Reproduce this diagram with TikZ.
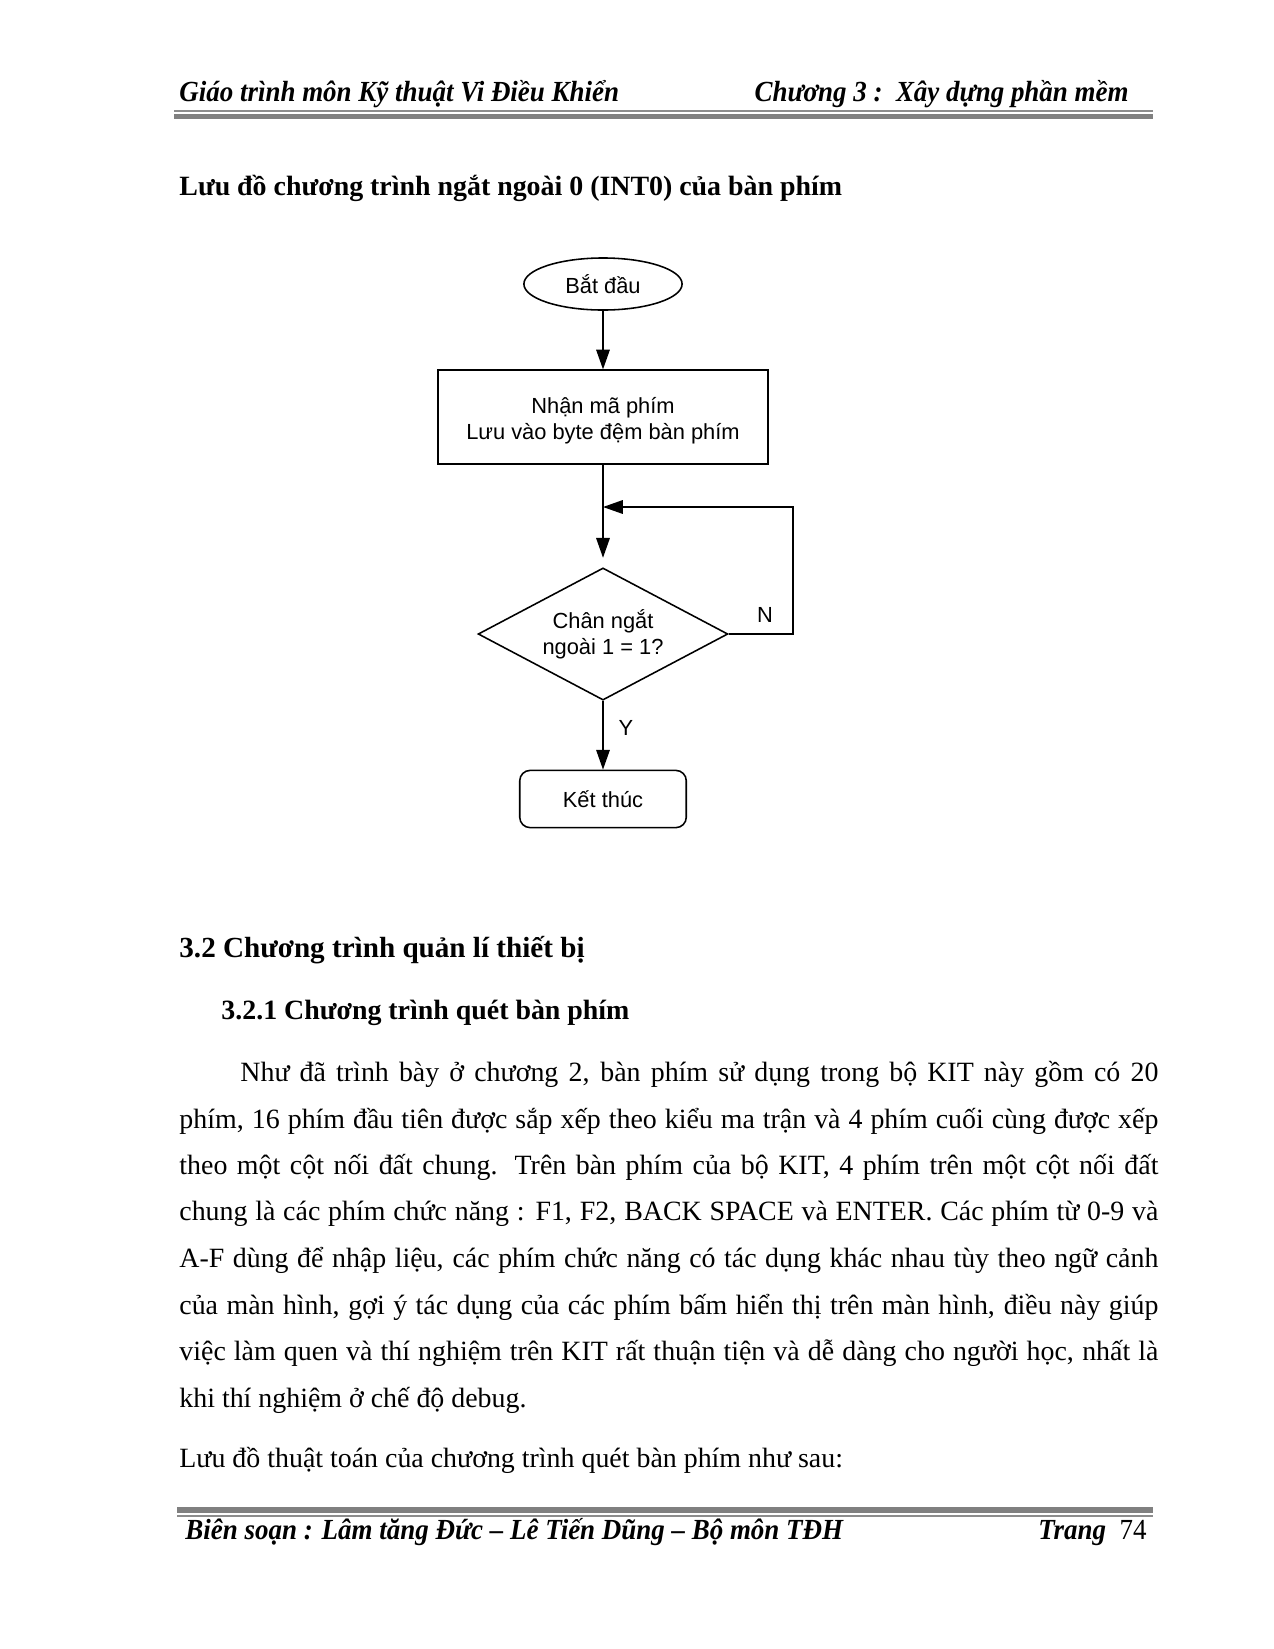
\documentclass[tikz,border=0pt]{standalone}
\usepackage{fontspec}
\usepackage{graphicx}
\setmainfont{Liberation Serif}
\newfontfamily\flowfont{Liberation Sans}
\usetikzlibrary{shapes.geometric,arrows.meta}
\newcommand\jline[2]{\makebox[#1][s]{#2}}
\newcommand\hsq[1]{\scalebox{0.925}[1]{#1}}
\begin{document}
\begin{tikzpicture}[x=0.4804pt,y=-0.4804pt,
  txt/.style={inner sep=0pt,anchor=base west,font=\fontsize{13.4}{15}\selectfont},
  hdr/.style={inner sep=0pt,font=\fontsize{14}{16}\selectfont\bfseries\itshape},
  head/.style={inner sep=0pt,anchor=base west,font=\fontsize{13.4}{15}\selectfont\bfseries},
  fl/.style={draw,line width=0.75pt,font=\flowfont\fontsize{10.5}{12.5}\selectfont,align=center},
  arr/.style={line width=0.75pt,-{Triangle[length=9.5pt,width=6.5pt]}},
  lbl/.style={inner sep=0pt,font=\flowfont\fontsize{10.5}{12.5}\selectfont},
  rulethick/.style={draw=none,fill=black!50},
  rulethin/.style={draw=black!45,line width=0.9pt}]
\useasboundingbox[fill=white] (0,0) rectangle (1274,1649);
% header
\node[hdr,anchor=base west] (hl) at (179,101) {\hsq{Giáo trình môn Kỹ thuật Vi Điều Khiển}};
\node[hdr,anchor=base east] (hr) at (1129,101) {\hsq{Chương 3 :\ \ Xây dựng phần mềm}};
\draw[rulethin] (174,111) -- (1153,111);
\fill[rulethick] (174,114) rectangle (1153,119);
% title
\node[head] (title) at (179,195) {Lưu đồ chương trình ngắt ngoài 0 (INT0) của bàn phím};
% flowchart
\node[fl,ellipse,inner sep=0pt,minimum width=76pt,minimum height=25pt] (start) at (603,284) {Bắt đầu};
\node[fl,rectangle,minimum width=158.5pt,minimum height=45pt] (proc) at (603,417) {\raisebox{-2pt}[\height][\depth]{\begin{tabular}{@{}c@{}}Nhận mã phím\\Lưu vào byte đệm bàn phím\end{tabular}}};
\node[fl,diamond,aspect=1.9,inner sep=0pt,minimum width=120pt,minimum height=63.5pt] (dec) at (603,634) {Chân ngắt\\ngoài 1 = 1?};
\node[fl,rectangle,rounded corners=5pt,minimum width=80pt,minimum height=27.5pt] (end) at (603,799) {Kết thúc};
\coordinate (join) at (603,507);
\coordinate (loopr) at (793,507);
\draw[arr] (start) -- (proc);
\draw[line width=0.75pt] (proc) -- (join);
\draw[arr,shorten >=4.5pt] (join) -- (dec.north);
\draw[arr] (dec.east) -| (loopr) -- (join);
\draw[arr] (dec.south) -- (end.north);
\node[lbl] (n) at (765,615) {N};
\node[lbl] (y) at (626,728) {Y};
% section headings
\node[head,font=\fontsize{14}{16}\selectfont\bfseries] (s32) at (179,957) {3.2 Chương trình quản lí thiết bị};
\node[head] (s321) at (221,1019) {3.2.1 Chương trình quét bàn phím};
% paragraph
\node[txt] (p1) at (240,1081) {\jline{441pt}{Như đã trình bày ở chương 2, bàn phím sử dụng trong bộ KIT này gồm có 20}};
\node[txt] (p2) at (179,1128) {\jline{470.3pt}{phím, 16 phím đầu tiên được sắp xếp theo kiểu ma trận và 4 phím cuối cùng được xếp}};
\node[txt] (p3) at (179,1174) {\jline{470.3pt}{theo một cột nối đất chung. Trên bàn phím của bộ KIT, 4 phím trên một cột nối đất}};
\node[txt] (p4) at (179,1220) {\jline{470.3pt}{chung là các phím chức năng : F1, F2, BACK SPACE và ENTER. Các phím từ 0-9 và}};
\node[txt] (p5) at (179,1267) {\jline{470.3pt}{A-F dùng để nhập liệu, các phím chức năng có tác dụng khác nhau tùy theo ngữ cảnh}};
\node[txt] (p6) at (179,1314) {\jline{470.3pt}{của màn hình, gợi ý tác dụng của các phím bấm hiển thị trên màn hình, điều này giúp}};
\node[txt] (p7) at (179,1360) {\jline{470.3pt}{việc làm quen và thí nghiệm trên KIT rất thuận tiện và dễ dàng cho người học, nhất là}};
\node[txt] (p8) at (179,1407) {khi thí nghiệm ở chế độ debug.};
\node[txt] (p9) at (179,1467) {Lưu đồ thuật toán của chương trình quét bàn phím như sau:};
% footer
\fill[rulethick] (177,1507) rectangle (1153,1513);
\draw[rulethin] (177,1516) -- (1153,1516);
\node[hdr,anchor=base west] (fl) at (185,1539) {\hsq{Biên soạn : Lâm tăng Đức -- Lê Tiến Dũng -- Bộ môn TĐH}};
\node[hdr,anchor=base east] (fr) at (1147,1539) {\hsq{Trang\ \ \textup{\mdseries 74}}};
\end{tikzpicture}
\end{document}
